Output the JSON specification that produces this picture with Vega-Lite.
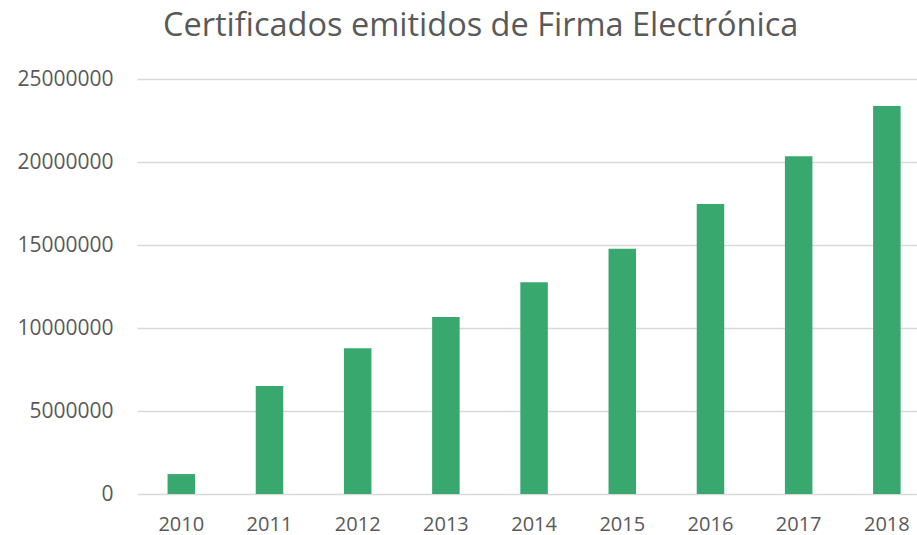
{
  "$schema": "https://vega.github.io/schema/vega-lite/v6.json",
  "autosize": {"type": "none"},
  "width": 780,
  "height": 415,
  "padding": {"left": 137, "top": 79, "right": 0, "bottom": 41},
  "background": "white",
  "title": {
    "text": "Certificados emitidos de Firma Electrónica",
    "anchor": "start",
    "frame": "group",
    "dx": 26,
    "font": "Open Sans",
    "fontSize": 32.5,
    "fontWeight": "normal",
    "color": "#595959",
    "offset": 26
  },
  "data": {
    "values": [
      {"year": "2010", "value": 1200000},
      {"year": "2011", "value": 6500000},
      {"year": "2012", "value": 8780000},
      {"year": "2013", "value": 10660000},
      {"year": "2014", "value": 12750000},
      {"year": "2015", "value": 14770000},
      {"year": "2016", "value": 17470000},
      {"year": "2017", "value": 20340000},
      {"year": "2018", "value": 23370000}
    ]
  },
  "mark": {"type": "bar", "color": "#38A86F"},
  "encoding": {
    "x": {
      "field": "year",
      "type": "nominal",
      "sort": null,
      "scale": {"paddingInner": 0.688, "paddingOuter": 0.266, "align": 0.651},
      "axis": {
        "title": null,
        "labelAngle": 0,
        "domain": false,
        "ticks": false,
        "labelPadding": 20,
        "labelFont": "Open Sans",
        "labelFontSize": 20,
        "labelColor": "#595959"
      }
    },
    "y": {
      "field": "value",
      "type": "quantitative",
      "scale": {"domain": [0, 25000000], "nice": false},
      "axis": {
        "title": null,
        "values": [0, 5000000, 10000000, 15000000, 20000000, 25000000],
        "format": "d",
        "domain": false,
        "ticks": false,
        "labelPadding": 24,
        "labelFont": "Open Sans",
        "labelFontSize": 21,
        "labelColor": "#595959",
        "gridColor": "#D9D9D9",
        "gridWidth": 1.5
      }
    }
  },
  "config": {"view": {"stroke": null}}
}
